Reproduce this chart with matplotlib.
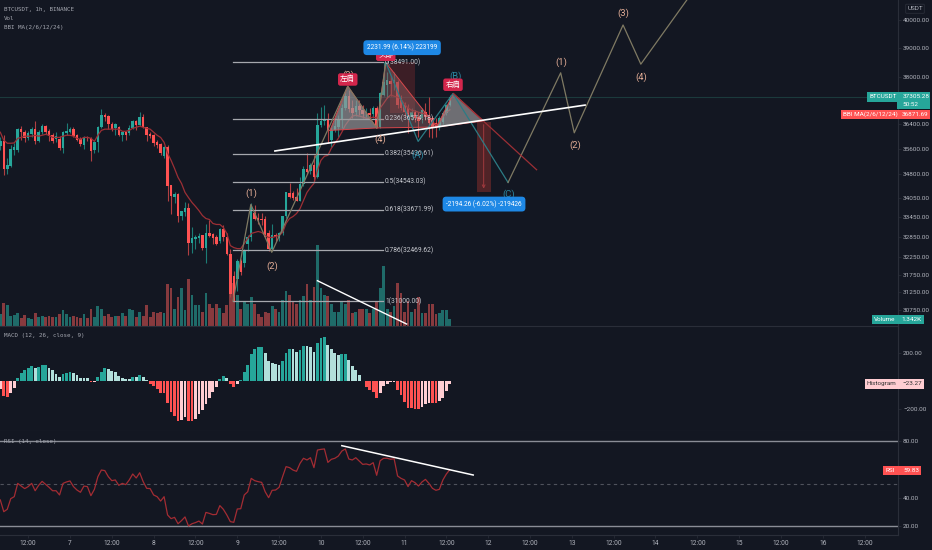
import matplotlib
matplotlib.use('Agg')
import matplotlib.pyplot as plt
import matplotlib.patches as mpatches
import numpy as np

plt.rcParams['font.family'] = ['Roboto', 'DejaVu Sans']

BG = '#131722'
GRID = '#2a2e39'
LABEL = '#b2b5be'
UP = '#26a69a'
DOWN = '#ff5252'
VOL_UP = '#1f6b69'
VOL_DOWN = '#873a3e'
WICK_UP = '#1c7c76'
WICK_DOWN = '#b03f42'
PEACH = '#e3ad96'
TAN = '#7f7a63'
TEAL = '#2c7c85'
CJK = ['Noto Sans CJK SC', 'DejaVu Sans']

# candles, one per hour
opens = [35670, 35830, 34930, 35030, 35540, 35540, 36230, 36130, 35930, 36060,
         36230, 35830, 36130, 36330, 36160, 36030, 35900, 35900, 35610, 36100,
         36130, 36230, 36030, 35900, 35700, 35960, 35930, 35540, 35800, 36290,
         36690, 36660, 36390, 36260, 36290, 36030, 36130, 36100, 36260, 36490,
         36360, 36630, 36290, 36060, 36030, 35800, 35740, 35350, 35640, 34430,
         34060, 34150, 33500, 33620, 33740, 32690, 32780, 32810, 32900, 32540,
         32960, 32930, 32840, 32750, 33080, 32840, 32360, 31720, 31640, 32160,
         32100, 32660, 32840, 33590, 33440, 33410, 33410, 32960, 32510, 32900,
         32810, 32960, 33500, 34180, 34180, 34080, 33960, 34460, 34960, 34870,
         35060, 34680, 36360, 36490, 36560, 35870, 36190, 36290, 36520, 36930,
         37330, 36930, 36790, 36990, 36860, 36760, 36760, 36730, 36930, 36290,
         37370, 37710, 37840, 37770, 37810, 37260, 37030, 36930, 36630, 36790,
         36630, 36590, 36790, 36660, 36590, 36430, 36290, 36460, 36760, 37030]
highs = [35960, 36030, 35280, 35700, 35770, 36260, 36330, 36190, 36160, 36290,
         36490, 36190, 36390, 36360, 36230, 36100, 36130, 36000, 36160, 36430,
         36290, 36290, 36060, 35960, 36000, 36000, 35960, 35830, 36330, 36890,
         36760, 36690, 36460, 36430, 36330, 36160, 36160, 36360, 36520, 36520,
         36790, 36730, 36290, 36130, 36060, 35870, 35770, 35670, 35700, 34430,
         34210, 34180, 33650, 33900, 33870, 33140, 32900, 32960, 32900, 33230,
         33350, 32960, 32900, 33110, 33200, 32960, 32510, 31870, 32210, 32210,
         32510, 32900, 33870, 33810, 33590, 33590, 33500, 33050, 33230, 32960,
         32990, 33500, 34210, 34490, 34240, 34360, 34680, 35030, 35440, 35120,
         35380, 36760, 36960, 37030, 36760, 36290, 36590, 36690, 37060, 37470,
         37540, 37200, 37200, 37200, 37030, 36930, 36930, 36990, 36990, 37470,
         38491, 38160, 38020, 38160, 37880, 37370, 37130, 37060, 36930, 36860,
         36790, 36930, 37090, 37300, 36660, 36590, 36660, 36830, 37060, 37370]
lows = [35540, 34770, 34800, 35000, 35380, 35480, 35870, 35800, 35870, 35960,
        35740, 35800, 36060, 36060, 35830, 35770, 35800, 35540, 35450, 36030,
        36100, 35960, 35830, 35670, 35570, 35830, 35190, 35450, 35480, 36260,
        36490, 36230, 36160, 36030, 36000, 35830, 35870, 36030, 36230, 36190,
        36330, 36260, 35830, 35930, 35670, 35610, 35380, 35280, 33960, 33560,
        33870, 33290, 33350, 33500, 32330, 32390, 32510, 32690, 32480, 32100,
        32840, 32660, 32630, 32690, 32750, 32330, 31120, 31000, 31290, 31750,
        31980, 32450, 32750, 33350, 33230, 33200, 32810, 32450, 32450, 32750,
        32750, 32900, 33440, 34050, 33990, 33930, 33960, 34400, 34800, 34800,
        34580, 34650, 36290, 36360, 35770, 35640, 36130, 35960, 36260, 36860,
        36790, 36590, 36660, 36690, 36590, 36630, 36520, 36590, 36260, 36260,
        37330, 37260, 37330, 37540, 36930, 36860, 36660, 36100, 36520, 36460,
        35960, 36430, 36520, 35960, 35930, 35960, 36190, 36390, 36690, 36990]
closes = [35830, 34960, 35060, 35570, 35640, 36230, 36130, 35930, 36100, 36230,
          35830, 36130, 36330, 36130, 36000, 35830, 36000, 35610, 36130, 36160,
          36230, 36000, 35870, 35740, 35960, 35930, 35510, 35800, 36290, 36690,
          36630, 36390, 36230, 36390, 36030, 36130, 36030, 36260, 36490, 36360,
          36630, 36290, 36030, 36000, 35770, 35700, 35450, 35640, 34400, 34090,
          34150, 33500, 33650, 33740, 32690, 32810, 32840, 32870, 32540, 32960,
          32870, 32810, 32660, 33080, 32840, 32360, 31210, 31000, 32160, 31840,
          32450, 32840, 33810, 33410, 33350, 33350, 32840, 32510, 32900, 32840,
          32960, 33500, 34210, 34080, 34050, 33960, 34460, 34960, 34840, 35060,
          34680, 36360, 36490, 36560, 36190, 36190, 36330, 36520, 36930, 37330,
          36890, 36760, 36990, 36860, 36730, 36790, 36690, 36930, 36290, 37430,
          37810, 37880, 37740, 37880, 37030, 36930, 36790, 36590, 36790, 36590,
          36490, 36860, 36630, 36430, 36290, 36290, 36590, 36760, 37030, 37305]
volume_k = [2.6, 5.1, 4.5, 2.2, 2.4, 2.8, 1.6, 2.4, 1.6, 1.5,
            2.9, 1.8, 2.2, 1.8, 2.2, 1.8, 1.8, 2.5, 3.4, 2.5,
            1.8, 2.2, 1.8, 1.6, 2.5, 1.6, 3.6, 2.0, 4.3, 3.6,
            2.2, 2.5, 1.8, 2.2, 2.2, 2.7, 2.2, 3.8, 3.4, 2.0,
            3.1, 2.2, 4.5, 2.0, 3.1, 2.9, 3.1, 2.9, 9.2, 8.3,
            3.6, 6.3, 8.3, 3.4, 10.3, 6.9, 4.5, 4.5, 3.1, 7.2,
            4.9, 4.0, 4.7, 4.0, 2.7, 4.5, 10.1, 9.4, 6.9, 3.8,
            5.4, 4.7, 6.3, 4.7, 2.5, 2.0, 3.1, 2.9, 4.3, 3.6,
            3.1, 5.6, 7.8, 6.9, 5.2, 4.9, 5.6, 6.7, 9.2, 5.6,
            8.7, 18.1, 8.3, 6.9, 6.5, 4.9, 3.1, 3.1, 5.2, 4.9,
            5.8, 2.9, 3.1, 3.8, 3.8, 3.6, 2.7, 3.6, 5.4, 8.3,
            13.4, 3.8, 3.1, 4.3, 9.6, 7.2, 3.1, 5.4, 3.1, 3.6,
            6.3, 2.9, 2.7, 4.7, 4.7, 2.5, 2.7, 3.4, 3.4, 1.342]
bbi = [36130, 35870, 35770, 35770, 35780, 35930, 35960, 36000, 36000, 36000,
       36030, 36000, 36030, 36060, 36030, 35960, 35960, 35960, 36000, 36030,
       36030, 36000, 35930, 35900, 35960, 35960, 35930, 35830, 36030, 36190,
       36230, 36230, 36230, 36230, 36230, 36160, 36160, 36190, 36260, 36290,
       36330, 36290, 36260, 36230, 36130, 36030, 35960, 35800, 35450, 35220,
       34960, 34680, 34490, 34210, 34050, 33900, 33780, 33650, 33500, 33410,
       33380, 33260, 33230, 33230, 33140, 32960, 32600, 32540, 32510, 32510,
       32660, 32810, 32960, 32990, 33020, 32990, 32900, 32840, 32840, 32870,
       32900, 32990, 33260, 33410, 33470, 33560, 33710, 33960, 34210, 34360,
       34490, 34900, 35220, 35350, 35380, 35610, 35770, 35930, 36130, 36360,
       36520, 36660, 36690, 36660, 36630, 36590, 36590, 36630, 36590, 36930,
       37090, 37260, 37370, 37330, 37300, 37230, 37060, 36930, 36860, 36830,
       36790, 36760, 36730, 36660, 36490, 36360, 36430, 36630, 36790, 36871.69]
macd_hist = [-59, -106, -113, -83, -52, 19, 59, 78, 90, 106,
             94, 101, 111, 112, 94, 76, 52, 28, 47, 57,
             64, 57, 40, 24, 24, 24, -9, -5, 28, 66,
             94, 87, 71, 61, 38, 21, 12, 12, 28, 28,
             42, 28, 7, -19, -35, -59, -87, -88, -153, -219,
             -248, -285, -278, -255, -283, -283, -267, -236, -208, -165,
             -123, -78, -40, 12, 33, 19, -24, -42, -19, 7,
             66, 113, 189, 229, 241, 242, 201, 142, 130, 118,
             113, 142, 201, 224, 224, 208, 219, 248, 248, 243,
             205, 271, 307, 314, 255, 224, 201, 184, 189, 194,
             149, 106, 78, 40, -2, -42, -64, -76, -123, -87,
             -35, -24, -7, -5, -61, -99, -146, -189, -194, -196,
             -201, -184, -165, -153, -154, -158, -142, -118, -71, -23.27]
rsi = [38.4, 30.1, 31.8, 39.3, 40.7, 50.1, 48.2, 46.4, 47.8, 50.1,
       44.9, 48.7, 51.5, 49.4, 47.3, 44.9, 44.9, 41.9, 50.1, 51.1,
       51.8, 47.8, 45.4, 43.8, 48.2, 47.8, 41.4, 45.9, 54.8, 59.5,
       59.1, 54.8, 52.0, 52.5, 48.7, 50.1, 49.2, 52.5, 56.7, 53.9,
       57.6, 51.3, 46.6, 46.4, 41.9, 40.7, 37.6, 40.7, 27.8, 25.2,
       26.1, 21.6, 23.8, 26.4, 20.0, 21.6, 22.4, 23.5, 21.4, 29.6,
       28.9, 28.0, 28.2, 34.4, 31.8, 27.8, 23.1, 22.6, 32.0, 32.2,
       41.9, 44.2, 53.6, 52.0, 51.3, 50.8, 44.2, 40.0, 45.2, 45.4,
       47.3, 54.8, 61.9, 61.2, 59.5, 58.6, 64.2, 67.8, 66.6, 68.2,
       61.2, 73.6, 74.1, 74.4, 64.9, 67.1, 67.8, 69.4, 72.9, 74.4,
       67.3, 66.6, 68.2, 65.9, 63.5, 63.8, 63.1, 64.7, 55.8, 66.1,
       67.8, 67.8, 67.1, 67.5, 55.3, 53.6, 52.5, 47.8, 52.0, 50.6,
       48.2, 51.1, 52.9, 50.1, 46.6, 45.2, 45.9, 52.5, 56.7, 59.83]

price_ticks = [40000, 39000, 38000, 36400, 35600, 34800, 34050, 33450, 32850, 32250, 31750, 31250, 30750]
macd_ticks = [200, -200]
rsi_ticks = [80, 40, 20]
time_labels = ['12:00', '7', '12:00', '8', '12:00', '9', '12:00', '10', '12:00', '11', '12:00',
               '12', '12:00', '13', '12:00', '14', '12:00', '15', '12:00', '16', '12:00']

fib_levels = ['0', '0.236', '0.382', '0.5', '0.618', '0.786', '1']
fib_prices = [38491.00, 36574.18, 35436.61, 34543.03, 33671.99, 32469.62, 31000.00]

wave_up_x = [66.8, 71.9, 77.9, 99.7, 108.0, 110.6]
wave_up_y = [31000, 33840, 32400, 37670, 36270, 38491]
abc_x = [110.6, 119.9, 129.9, 145.7]
abc_y = [38491, 35830, 37420, 34520]
proj_x = [145.7, 160.8, 164.7, 178.7, 183.8, 197.0]
proj_y = [34520, 38130, 36110, 39820, 38430, 40733]

hs_x = [94.6, 99.7, 108.0, 110.6, 125.2, 130.0, 138.6]
hs_y = [36190, 37670, 36270, 38491, 36300, 37420, 36500]

fig = plt.figure(figsize=(9.32, 5.5), dpi=100, facecolor=BG)
W, H = 932.0, 550.0
right = 897.5 / W
ax = fig.add_axes([0, 1 - 325.5 / H, right, 325.5 / H])
ax_macd = fig.add_axes([0, 1 - 430.5 / H, right, 104.5 / H])
ax_rsi = fig.add_axes([0, 1 - 535 / H, right, 104 / H])

idx = np.arange(len(closes))
opens = np.array(opens, dtype=float)
closes = np.array(closes, dtype=float)
is_up = closes >= opens

ax_vol = ax.twinx()
ax_vol.bar(idx, volume_k, width=0.8, color=[VOL_UP if u else VOL_DOWN for u in is_up])
ax_vol.set_ylim(0, 72.8)
ax_vol.axis('off')
ax.set_zorder(ax_vol.get_zorder() + 1)
ax.patch.set_visible(False)
ax_vol.set_facecolor(BG)

ax.set_yscale('log')
ax.axhline(closes[-1], color='#1b3a3c', lw=0.8, zorder=1)
ax.vlines(idx, lows, highs, colors=[WICK_UP if u else WICK_DOWN for u in is_up], lw=0.8, zorder=2)
ax.bar(idx, closes - opens, bottom=opens, width=0.72,
       color=[UP if u else DOWN for u in is_up], zorder=3)
ax.plot(idx, bbi, color='#9c2f35', lw=0.9, zorder=4)

# fib levels
for lev, p in zip(fib_levels, fib_prices):
    ax.plot([66.8, 109.9], [p, p], color='#a6a8ae', lw=0.9, zorder=5)
    ax.text(110.4, p, '%s(%.2f)' % (lev, p), color='#c8cad0', fontsize=4.8, va='center', zorder=9)

# measure boxes
ax.add_patch(mpatches.Rectangle((111.8, 36760), 7.2, 38491 - 36760, color='#7a2a2e', alpha=0.4, lw=0, zorder=4))
ax.add_patch(mpatches.Rectangle((136.7, 34220), 4.1, 36470 - 34220, color='#5c2629', alpha=0.85, lw=0, zorder=4))
ax.annotate('', xy=(138.7, 34240), xytext=(138.7, 36470),
            arrowprops=dict(arrowstyle='->', color='#a03a3e', lw=0.7, mutation_scale=5), zorder=5)

# head and shoulders
tri_sets = [[0, 1, 2], [2, 3, 4], [4, 5, 6]]
for k, tri in enumerate(tri_sets):
    px = [hs_x[n] for n in tri]
    py = [hs_y[n] for n in tri]
    fc = '#9a989a' if k != 1 else '#a46a6c'
    ax.fill(px, py, color=fc, alpha=0.68 if k != 1 else 0.4, lw=0, zorder=6)
    ax.plot(px + [px[0]], py + [py[0]], color='#d8474b', lw=0.7, zorder=7)

ax.plot(wave_up_x, wave_up_y, color=TAN, lw=0.9, zorder=7)
ax.plot(abc_x, abc_y, color=TEAL, lw=0.9, zorder=7)
ax.plot(proj_x, proj_y, color=TAN, lw=0.9, zorder=7)
ax.plot([130.0, 153.9], [37420, 34920], color='#9c2f35', lw=0.9, zorder=7)
ax.plot([78.8, 167.8], [35520, 37030], color='white', lw=1.2, zorder=8)
ax.plot([91.0, 116.6], [31577, 30360], color='white', lw=1.0, zorder=8)

wave_labels = ['(1)', '(2)', '(3)', '(4)', '(1)', '(2)', '(3)', '(4)']
wave_lx = [71.9, 77.9, 99.9, 109.0, 161.0, 165.0, 178.7, 183.8]
wave_ly = [34180, 31990, 38050, 35900, 38490, 35720, 40230, 37970]
for t, lx, ly in zip(wave_labels, wave_lx, wave_ly):
    ax.text(lx, ly, t, color=PEACH, fontsize=6.8, ha='center', va='center', zorder=9)
abc_labels = ['(A)', '(B)', '(C)']
abc_lx = [119.9, 130.6, 145.8]
abc_ly = [35380, 38020, 34150]
for t, lx, ly in zip(abc_labels, abc_lx, abc_ly):
    ax.text(lx, ly, t, color='#2a86a0', fontsize=6.8, ha='center', va='center', zorder=9)

badges = ['左肩', '头部', '右肩']
badge_x = [99.7, 110.6, 129.9]
badge_y = [37900, 38760, 37720]
for t, bx, by in zip(badges, badge_x, badge_y):
    ax.text(bx, by, t, color='white', fontsize=5.4, family=CJK, ha='center', va='center', zorder=10,
            bbox=dict(boxstyle='round,pad=0.3', fc='#d3264c', ec='none'))

ax.text(115.3, 39010, '2231.99 (6.14%) 223199', color='white', fontsize=4.7, ha='center', va='center', zorder=11,
        bbox=dict(boxstyle='round,pad=0.55', fc='#1e88e5', ec='none'))
ax.text(138.8, 33850, '-2194.26 (-6.02%) -219426', color='white', fontsize=4.7, ha='center', va='center', zorder=11,
        bbox=dict(boxstyle='round,pad=0.55', fc='#1e88e5', ec='none'))

ax.set_ylim(30320, 40733)
ax.yaxis.tick_right()
ax.yaxis.set_major_locator(plt.FixedLocator(price_ticks))
ax.yaxis.set_major_formatter(plt.FuncFormatter(lambda v, p: '%.2f' % v))
ax.yaxis.set_minor_locator(plt.NullLocator())

# macd pane
macd_colors = []
for k, v in enumerate(macd_hist):
    prev = macd_hist[k - 1] if k > 0 else v - 1
    if v >= 0:
        macd_colors.append(UP if v > prev else '#b2dfdb')
    else:
        macd_colors.append('#ffcdd2' if v > prev else DOWN)
ax_macd.bar(idx, macd_hist, width=0.8, color=macd_colors)
ax_macd.set_ylim(-350, 388.7)
ax_macd.yaxis.tick_right()
ax_macd.set_yticks(macd_ticks)
ax_macd.set_yticklabels(['200.00', '\u2212200.00'])

# rsi pane
ax_rsi.axhline(80, color='#8a8d96', lw=1.0)
ax_rsi.axhline(20, color='#8a8d96', lw=1.0)
ax_rsi.axhline(50, color='#4f525c', lw=0.8, ls=(0, (3, 3)))
ax_rsi.plot(idx, rsi, color='#a32c33', lw=0.9)
ax_rsi.plot([98.0, 135.7], [76.7, 56.0], color='white', lw=1.1)
ax_rsi.set_ylim(13.65, 87.06)
ax_rsi.yaxis.tick_right()
ax_rsi.set_yticks(rsi_ticks)
ax_rsi.set_yticklabels(['80.00', '40.00', '20.00'])

for a in [ax, ax_macd, ax_rsi]:
    a.set_facecolor(BG)
    a.set_xlim(-0.086, 257.45)
    a.set_xticks(8 + 12 * np.arange(len(time_labels)))
    a.tick_params(axis='y', which='major', colors=LABEL, labelsize=4.6, length=2, width=0.5, pad=2, color=GRID)
    a.tick_params(axis='x', length=0, labelbottom=False)
    for name, sp in a.spines.items():
        sp.set_visible(name == 'right' or name == 'bottom')
        sp.set_color(GRID)
        sp.set_linewidth(0.8)
ax_rsi.set_xticklabels(time_labels)
ax_rsi.tick_params(axis='x', colors=LABEL, labelsize=4.8, length=2, width=0.5, pad=1.5, color=GRID, labelbottom=True)

# overlay for legends and value tags, in pixels
ov = fig.add_axes([0, 0, 1, 1], zorder=50)
ov.set_xlim(0, W)
ov.set_ylim(H, 0)
ov.axis('off')

legend_text = ['BTCUSDT, 1h, BINANCE', 'Vol', 'BBI MA(2/6/12/24)', 'MACD (12, 26, close, 9)', 'RSI (14, close)']
legend_y = [10, 19, 28, 336, 441]
for t, ly in zip(legend_text, legend_y):
    ov.text(3.5, ly, t, color='#a3a6af', fontsize=4.2, family='DejaVu Sans Mono', va='center')

tags = [
    (867, 92, 30.5, 9.7, UP, 'BTCUSDT', 'white', None),
    (897, 92, 33, 16.5, UP, None, 'white', None),
    (841, 109.5, 89, 9, DOWN, 'BBI MA(2/6/12/24)', 'white', '36871.69'),
    (872, 315, 52, 9, UP, 'Volume', 'white', '1.342K'),
    (864.5, 379, 59.5, 9.5, '#ffcdd2', 'Histogram', '#333333', '\u221223.27'),
    (883, 466, 38, 8.5, DOWN, 'RSI', 'white', '59.83'),
]
for x0, y0, w, h, col, name, tcol, val in tags:
    ov.add_patch(mpatches.Rectangle((x0, y0), w, h, color=col, lw=0))
    if name is not None:
        ov.text(x0 + 2, y0 + h / 2.0, name, color=tcol, fontsize=4.6, va='center')
    if val is not None:
        ov.text(x0 + w - 2, y0 + h / 2.0, val, color=tcol, fontsize=4.6, va='center', ha='right')
ov.text(902.5, 96.8, '37305.28', color='white', fontsize=4.6, va='center')
ov.text(902.5, 104.5, '50:52', color='white', fontsize=4.6, va='center')
ov.add_patch(mpatches.FancyBboxPatch((906.5, 5), 17, 7.5, boxstyle='round,pad=0.8', fc=BG, ec=GRID, lw=0.6))
ov.text(915, 8.8, 'USDT', color=LABEL, fontsize=4.6, ha='center', va='center')

fig.savefig('out.png', dpi=100, facecolor=BG)
